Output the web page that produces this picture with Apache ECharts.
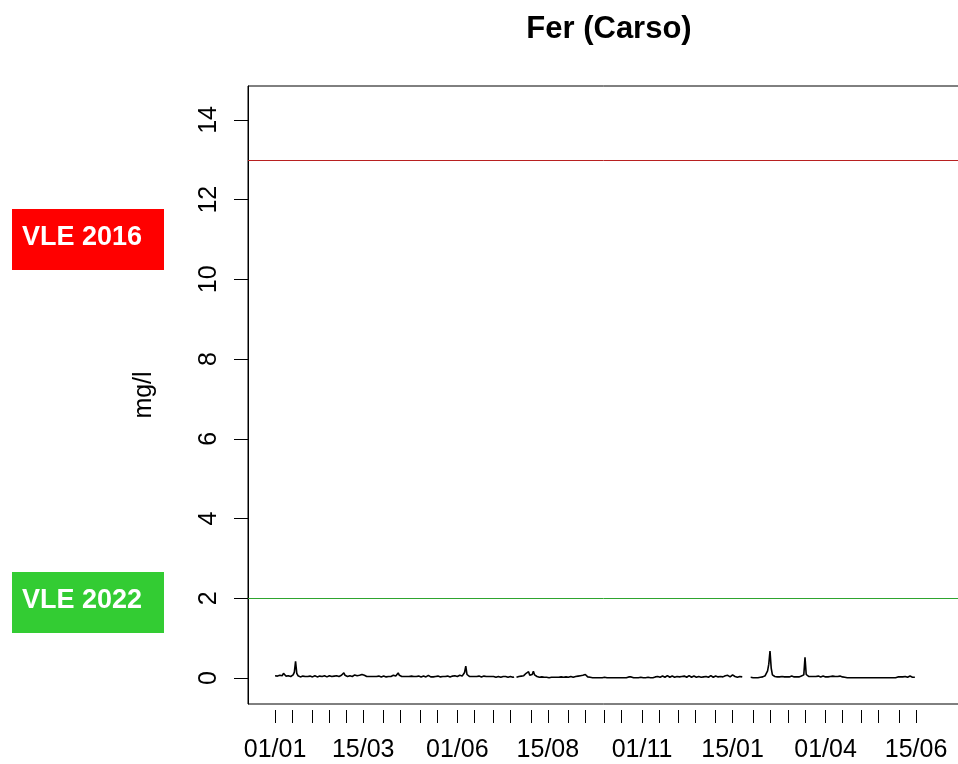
<!DOCTYPE html>
<html>
<head>
<meta charset="utf-8">
<script src="https://cdn.jsdelivr.net/npm/echarts@6/dist/echarts.min.js"></script>
<style>
  html, body { margin: 0; padding: 0; background: #fff; }
  #chart { width: 958px; height: 764px; }
</style>
</head>
<body>
<div id="chart"></div>
<script>
// Daily iron concentration (mg/l), first value on 1 January 2015
const startDate = Date.UTC(2015, 0, 1);
const ironDaily = [
  0.06,0.08,0.05,0.04,0.07,0.09,0.06,0.12,0.08,0.05,0.04,0.06,0.05,0.04,0.06,0.08,0.15,0.42,0.12,0.06,
  0.04,0.03,0.04,0.05,0.03,0.04,0.06,0.04,0.03,0.05,0.04,0.03,0.05,0.06,0.04,0.03,0.04,0.05,0.03,0.04,
  0.05,0.06,0.04,0.03,0.04,0.06,0.05,0.04,0.03,0.05,0.04,0.06,0.05,0.04,0.05,0.07,0.09,0.13,0.07,0.05,
  0.04,0.05,0.06,0.05,0.04,0.06,0.08,0.11,0.06,0.05,0.07,0.06,0.09,0.12,0.07,0.05,0.04,0.05,0.04,0.03,
  0.04,0.05,0.04,0.06,0.04,0.03,0.05,0.04,0.03,0.04,0.05,0.04,0.03,0.05,0.04,0.06,0.04,0.05,0.07,0.06,
  0.05,0.08,0.13,0.07,0.05,0.04,0.05,0.04,0.03,0.04,0.05,0.04,0.03,0.05,0.06,0.04,0.03,0.04,0.07,0.05,
  0.04,0.03,0.04,0.05,0.04,0.03,0.05,0.07,0.04,0.03,0.04,0.03,0.05,0.04,0.08,0.05,0.04,0.03,0.05,0.04,
  0.03,0.04,0.06,0.05,0.04,0.03,0.04,0.05,0.04,0.06,0.05,0.04,0.05,0.07,0.06,0.05,0.08,0.14,0.30,0.09,
  0.05,0.04,0.05,0.04,0.03,0.04,0.05,0.04,0.06,0.05,0.04,0.03,0.04,0.05,0.07,0.04,0.03,0.04,0.05,0.04,
  0.03,0.04,0.03,0.02,0.03,0.04,0.03,0.02,0.03,0.04,0.05,0.04,0.03,0.02,0.03,0.04,0.03,0.02,0.03,null,
  0.02,0.03,0.04,0.03,0.05,0.04,0.06,0.08,0.12,0.10,0.16,0.07,0.05,0.09,0.17,0.08,0.05,0.04,0.03,0.02,
  0.02,0.03,0.02,0.02,0.03,0.02,0.02,0.01,0.02,0.02,0.03,0.02,0.02,0.02,0.01,0.02,0.02,0.03,0.02,0.02,
  0.02,0.03,0.02,0.02,0.03,0.04,0.03,0.02,0.03,0.04,0.03,0.05,0.08,0.06,0.10,0.07,0.05,0.09,0.06,0.03,
  0.02,0.02,0.01,0.01,0.02,0.01,0.01,0.01,0.02,0.01,0.01,0.01,0.01,0.02,0.01,0.01,0.01,0.01,0.01,0.01,
  0.01,0.01,0.02,0.01,0.01,0.01,0.01,0.01,0.02,0.01,0.01,0.01,0.02,0.03,0.05,0.03,0.02,0.01,0.01,0.01,
  0.01,0.01,0.01,0.02,0.01,0.01,0.01,0.01,0.01,0.02,0.01,0.01,0.01,0.01,0.02,0.03,0.02,0.04,0.03,0.02,
  0.03,0.05,0.03,0.02,0.04,0.06,0.03,0.02,0.03,0.05,0.04,0.02,0.03,0.04,0.06,0.03,0.02,0.04,0.03,0.05,
  0.03,0.02,0.04,0.06,0.03,0.02,0.03,0.05,0.03,0.02,0.03,0.04,0.03,0.02,0.04,0.03,0.05,0.04,0.03,0.02,
  0.04,0.06,0.03,0.02,0.03,0.05,0.04,0.03,0.02,0.04,0.05,0.03,0.04,0.06,0.05,0.07,0.04,0.03,0.05,0.08,
  0.05,0.04,0.03,0.02,0.03,0.04,0.05,0.03,null,null,null,0.02,null,null,0.02,0.02,0.01,0.01,0.01,0.02,
  0.01,0.01,0.02,0.02,0.03,0.04,0.06,0.10,0.18,0.35,0.68,0.25,0.08,0.05,0.04,0.03,0.03,0.04,0.03,0.03,
  0.04,0.03,0.03,0.02,0.03,0.04,0.03,0.03,0.05,0.04,0.03,0.04,0.03,0.04,0.03,0.04,0.05,0.04,0.08,0.52,
  0.09,0.05,0.04,0.03,0.04,0.03,0.04,0.05,0.04,0.03,0.05,0.04,0.03,0.04,0.05,0.04,0.03,0.04,0.03,0.05,
  0.04,0.03,0.05,0.07,0.04,0.06,0.04,0.03,0.05,0.04,0.03,0.04,0.02,0.02,0.01,0.01,0.01,0.01,0.01,0.01,
  0.01,0.01,0.01,0.01,0.01,0.01,0.01,0.01,0.01,0.01,0.01,0.01,0.01,0.01,0.01,0.01,0.01,0.01,0.01,0.01,
  0.01,0.01,0.01,0.01,0.01,0.01,0.01,0.01,0.01,0.01,0.01,0.01,0.01,0.02,0.01,0.02,0.03,0.02,0.03,0.02,
  0.03,0.02,0.04,0.03,0.02,0.03,0.05,0.03,0.02,0.03,0.02
];

// Limit values (mg/l)
const limit2016 = 13;
const limit2022 = 2;
const limitLabels = ['VLE 2016', 'VLE 2022'];

// Y ticks
const yTicks = [0, 2, 4, 6, 8, 10, 12, 14];

// X ticks on the 1st and 15th of each month, Jan 2015 .. Jun 2016; every 5th one labelled
const tickMonths = [];
for (let y = 2015; y <= 2016; y++) {
  for (let m = 0; m < 12; m++) {
    if (y === 2016 && m > 5) break;
    tickMonths.push([y, m]);
  }
}
const DAY = 86400000;
const xTicks = [];
tickMonths.forEach(([y, m]) => {
  xTicks.push((Date.UTC(y, m, 1) - startDate) / DAY);
  xTicks.push((Date.UTC(y, m, 15) - startDate) / DAY);
});
const xLabelTicks = xTicks.filter((d, i) => i % 5 === 0);

function dayLabel(d) {
  const dt = new Date(startDate + d * DAY);
  const dd = String(dt.getUTCDate()).padStart(2, '0');
  const mm = String(dt.getUTCMonth() + 1).padStart(2, '0');
  return dd + '/' + mm;
}

const seriesData = ironDaily.map((v, i) => [i, v]);
const FONT = "'Liberation Sans', Arial, Helvetica, sans-serif";

const chart = echarts.init(document.getElementById('chart'), null, { renderer: 'canvas' });
chart.setOption({
  animation: false,
  backgroundColor: '#fff',
  title: {
    text: 'Fer (Carso)',
    left: 604,
    textAlign: 'center',
    top: 9,
    textStyle: { fontFamily: FONT, fontWeight: 'bold', fontSize: 31, color: '#000' }
  },
  grid: {
    left: 248, top: 86, width: 730, height: 618,
    outerBoundsMode: 'none',
    containLabel: false,
    show: true, borderColor: '#000', borderWidth: 1, backgroundColor: 'transparent'
  },
  xAxis: {
    type: 'value',
    min: -22.4,
    max: 582.3,
    offset: 6,
    axisLine: { show: false, onZero: false },
    axisTick: { show: true, customValues: xTicks, length: 13, lineStyle: { color: '#000', width: 1 } },
    axisLabel: {
      show: true, customValues: xLabelTicks, formatter: v => dayLabel(v),
      fontFamily: FONT, fontSize: 25, color: '#000', margin: 28
    },
    splitLine: { show: false }
  },
  yAxis: {
    type: 'value',
    min: -0.65,
    max: 14.85,
    name: 'mg/l',
    nameLocation: 'middle',
    nameRotate: 90,
    nameGap: 91,
    nameTextStyle: { fontFamily: FONT, fontSize: 25, color: '#000' },
    axisLine: { show: true, onZero: false, lineStyle: { color: '#000', width: 1 } },
    axisTick: { show: true, customValues: yTicks, length: 14, lineStyle: { color: '#000', width: 1 } },
    axisLabel: {
      show: true, customValues: yTicks, rotate: 90,
      fontFamily: FONT, fontSize: 25, color: '#000', margin: 26
    },
    splitLine: { show: false }
  },
  series: [{
    type: 'line',
    data: seriesData,
    showSymbol: false,
    connectNulls: false,
    lineStyle: { color: '#000', width: 1.6 },
    markLine: {
      silent: true,
      symbol: 'none',
      label: { show: false },
      data: [
        { yAxis: limit2016, lineStyle: { color: '#b82020', width: 1, type: 'solid' } },
        { yAxis: limit2022, lineStyle: { color: '#2ea52e', width: 1, type: 'solid' } }
      ]
    }
  }],
  graphic: [
    { type: 'rect', left: 12, top: 209, shape: { width: 152, height: 61 }, style: { fill: '#ff0000' } },
    { type: 'text', left: 22, top: 224, style: { text: limitLabels[0], fill: '#fff', font: "bold 27px " + FONT } },
    { type: 'rect', left: 12, top: 572, shape: { width: 152, height: 61 }, style: { fill: '#33cc33' } },
    { type: 'text', left: 22, top: 587, style: { text: limitLabels[1], fill: '#fff', font: "bold 27px " + FONT } }
  ]
});
</script>
</body>
</html>
